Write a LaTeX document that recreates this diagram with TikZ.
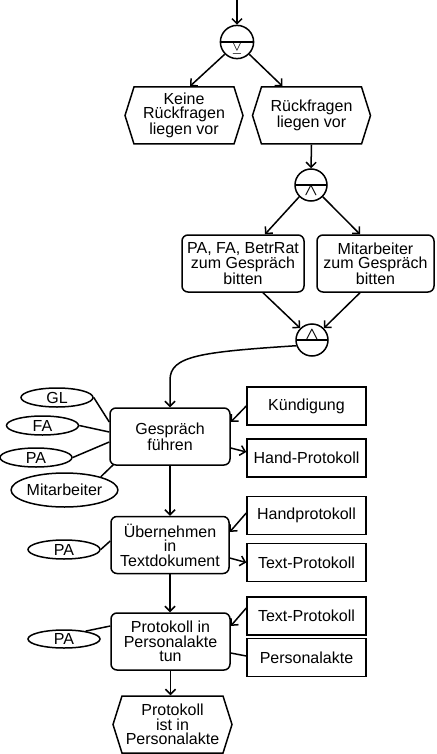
\documentclass[tikz,border=0pt]{standalone}
\usepackage{fontspec}
\setmainfont{Liberation Sans}
\usepackage{amsmath}
\usepackage{amssymb}
\usetikzlibrary{positioning, arrows.meta, calc, shapes.geometric, shapes.multipart, shapes.symbols}

\begin{document}
\begin{tikzpicture}[>={Straight Barb[length=5pt, width=10pt]}, x=1pt, y=1pt, line width=1.5pt,
  every node/.style={font=\fontsize{16}{14.5}\selectfont, align=center, line width=1.5pt},
  func/.style={draw, rounded corners=6pt, minimum width=119pt, minimum height=57pt, inner sep=2pt},
  event/.style={draw, signal, signal to=west and east, signal from=nowhere, signal pointer angle=145,
    minimum width=118pt, minimum height=57pt, inner sep=1pt},
  info/.style={draw, minimum width=119pt, minimum height=38pt, inner sep=2pt},
  org/.style={draw, ellipse, inner sep=0pt, minimum width=72pt, minimum height=19pt},
  conn/.style={draw, circle split, minimum size=32pt, inner sep=0pt, font=\fontsize{17}{17}\selectfont}]
  \useasboundingbox (0,0) rectangle (436,-754);

  % Split after the check
  \coordinate (top) at (237,0);
  \node[conn] (xor) at (237,-42) {\nodepart{lower}$\boldsymbol{\veebar}$};
  \node[event] (e1) at (184,-115.5) {Keine\\Rückfragen\\liegen vor};
  \node[event] (e2) at (311.5,-115.5) {Rückfragen\\liegen vor};

  % Invitations
  \node[conn] (and1) at (311,-185) {\nodepart{lower}$\boldsymbol{\wedge}$};
  \node[func, minimum width=122pt] (bitten1) at (243,-263.5) {PA, FA, BetrRat\\zum Gespräch\\bitten};
  \node[func, minimum width=117pt] (bitten2) at (375.5,-263.5) {Mitarbeiter\\zum Gespräch\\bitten};
  \node[conn] (and2) at (312,-340) {$\boldsymbol{\wedge}$\nodepart{lower}};

  % Gespraech fuehren
  \node[func, minimum width=120pt] (gf) at (170,-436.5) {Gespräch\\führen};
  \node[org] (gl) at (57,-397.5) {GL};
  \node[org] (fa) at (42.5,-425.5) {FA};
  \node[org] (pa1) at (36,-457.5) {PA};
  \node[org, minimum width=105pt, minimum height=34pt] (ma) at (64.5,-490) {Mitarbeiter};
  \node[info] (kue) at (306.5,-406) {Kündigung};
  \node[info] (hp) at (306.5,-458) {Hand-Protokoll};

  % Uebernehmen
  \node[func, minimum width=118pt] (ue) at (170,-545) {Übernehmen\\in\\Textdokument};
  \node[org] (pa2) at (64,-549.5) {PA};
  \node[info] (hpr) at (306.5,-515.5) {Handprotokoll};
  \node[info] (tp1) at (306.5,-562.5) {Text-Protokoll};

  % Ablage
  \node[func] (pt) at (170.5,-641.5) {Protokoll in\\Personalakte\\tun};
  \node[org, minimum height=18pt] (pa3) at (64,-639) {PA};
  \node[info] (tp2) at (306.5,-616) {Text-Protokoll};
  \node[info] (pak) at (306.5,-657.5) {Personalakte};
  \node[event, minimum width=119pt] (e3) at (172.5,-724.5) {Protokoll\\ist in\\Personalakte};

  % Control flow
  \draw[->] (top) -- (xor.north);
  \draw[->] (xor.south west) -- ($(e1.north)+(6,0)$);
  \draw[->] (xor.south east) -- ($(e2.north)+(-29,0)$);
  \draw[->] (e2.south) -- (and1.north);
  \draw[->] (and1.south west) -- ($(bitten1.north)+(22,0)$);
  \draw[->] (and1.south east) -- ($(bitten2.north)+(-15.5,0)$);
  \draw[->] ($(bitten1.south)+(20,0)$) -- (and2.north west);
  \draw[->] ($(bitten2.south)+(-15.5,0)$) -- (and2.north east);
  \draw[->] (and2.200) .. controls (200,-352) and (170,-356) .. (170,-380) -- (gf.north);
  \draw[->] (gf.south) -- (ue.north);
  \draw[->] (ue.south) -- (ue.south |- pt.north);
  \draw[->] (pt.south) -- (pt.south |- e3.north);

  % Roles
  \draw (gl.east) -- ($(gf.west)+(0,14.5)$);
  \draw (fa.east) -- ($(gf.west)+(0,4.5)$);
  \draw (pa1.east) -- ($(gf.west)+(0,-5.5)$);
  \draw (ma.20) -- ($(gf.south west)+(4,1)$);
  \draw (pa2.east) -- ($(ue.west)+(0,4)$);
  \draw (pa3.20) -- ($(pt.west)+(0,15.5)$);

  % Documents
  \draw[->] (kue.west) -- ($(gf.east)+(0,14.5)$);
  \draw[->] ($(gf.east)+(0,-11.5)$) -- ($(hp.west)+(0,6)$);
  \draw[->] ($(hpr.west)+(0,2.5)$) -- ($(ue.east)+(0,13)$);
  \draw[->] ($(ue.east)+(0,-13)$) -- (tp1.west);
  \draw[->] ($(tp2.west)+(0,8)$) -- ($(pt.east)+(0,15.5)$);
  \draw ($(pt.east)+(0,-11.5)$) -- ($(pak.west)+(0,1.5)$);

\end{tikzpicture}
\end{document}
